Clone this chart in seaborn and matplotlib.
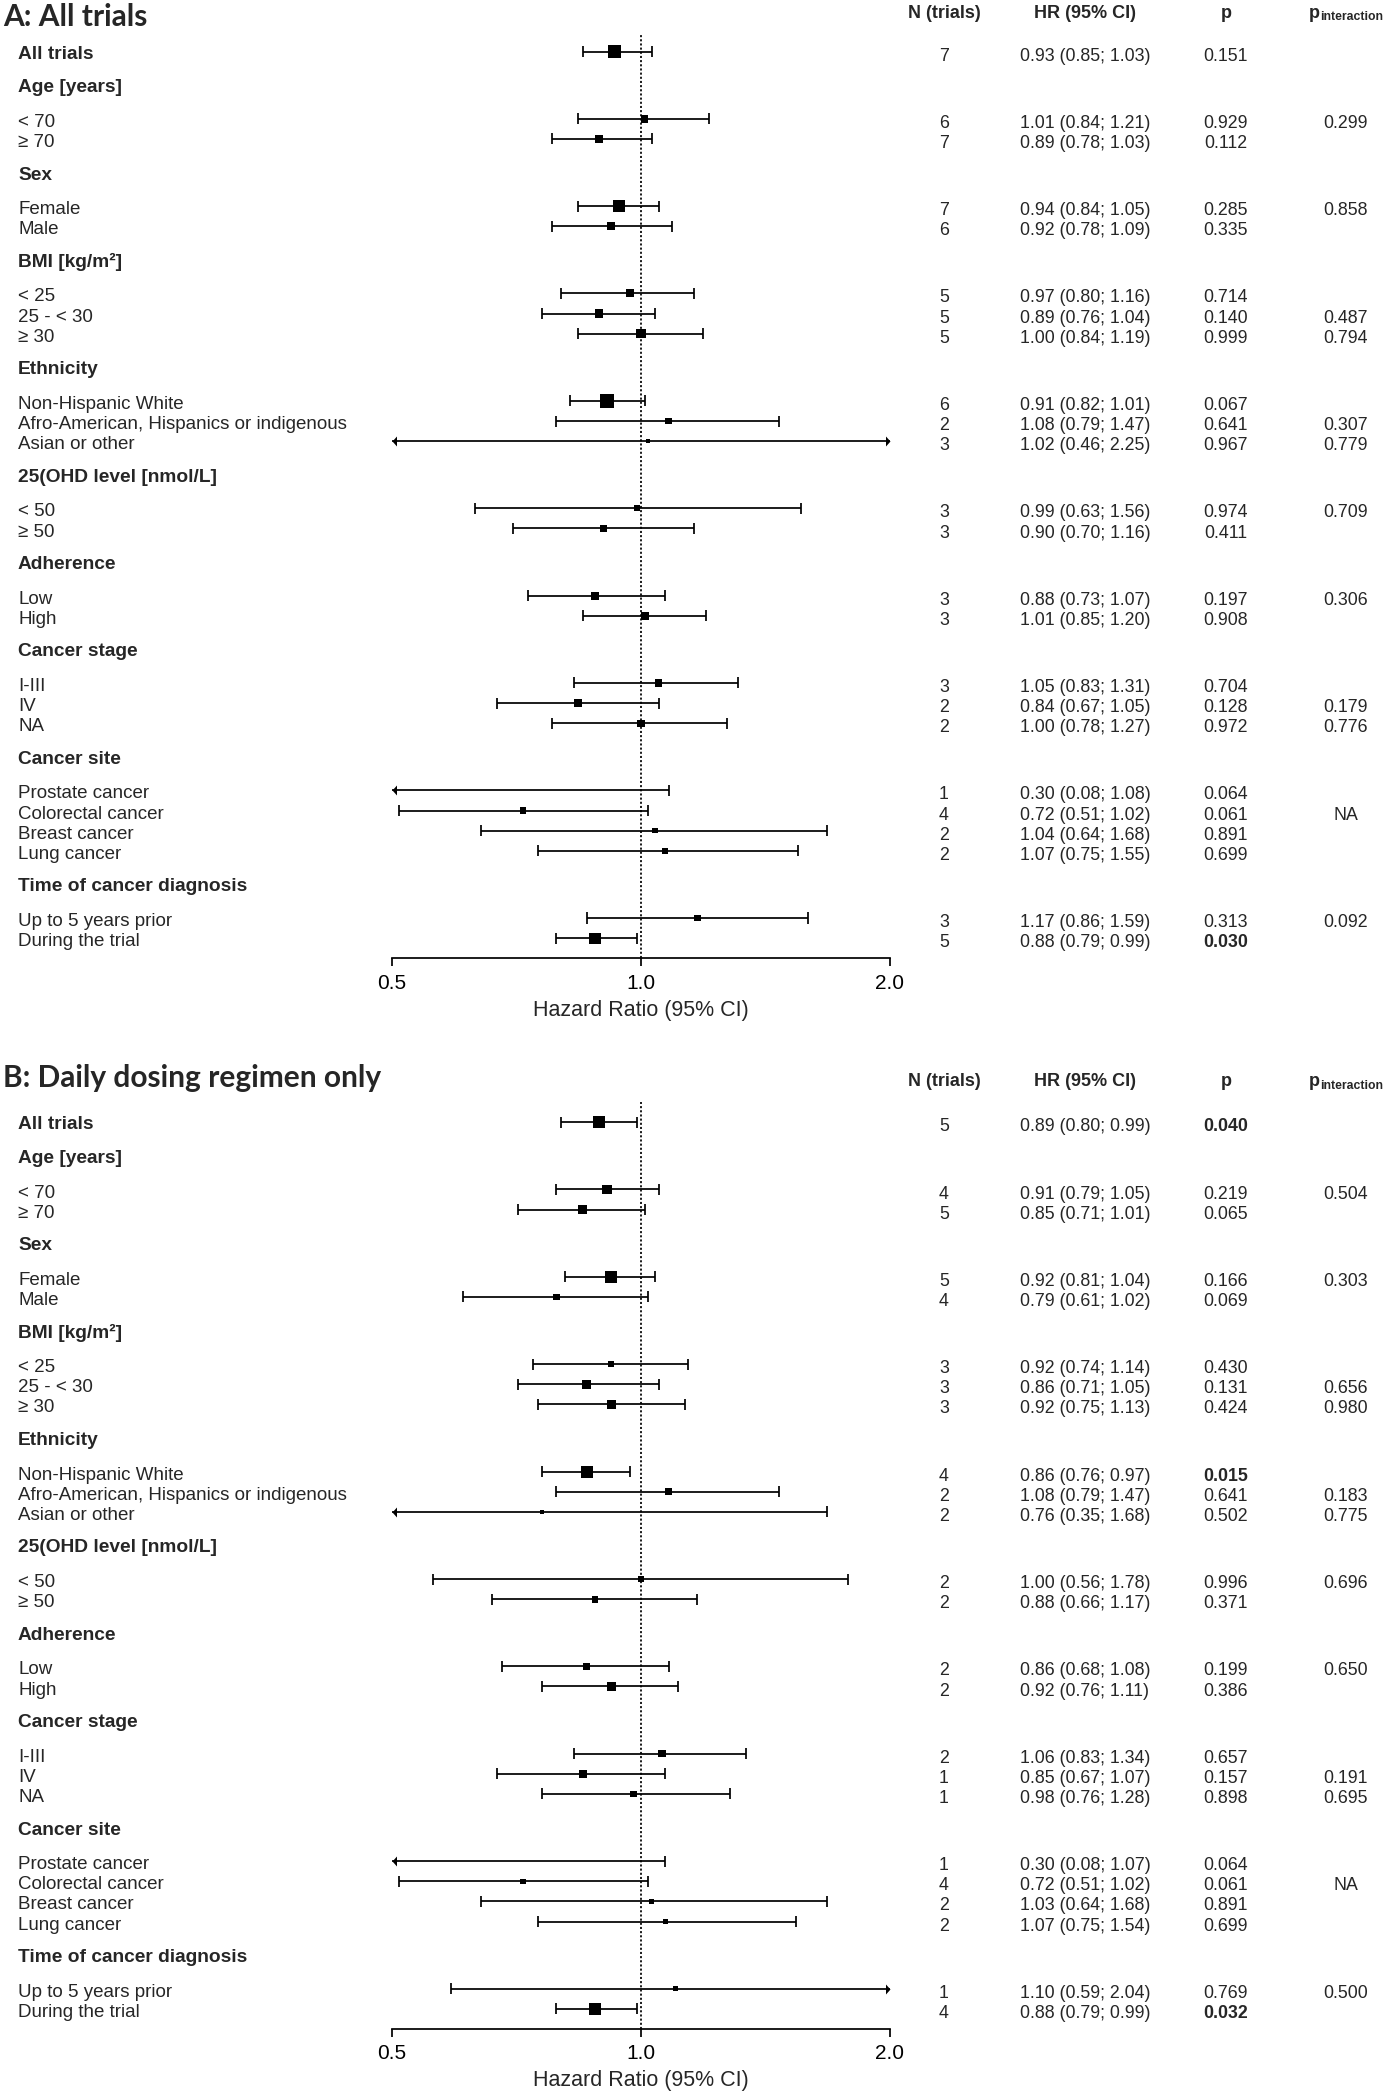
import numpy as np
import pandas as pd
import matplotlib
matplotlib.use("Agg")
import matplotlib.pyplot as plt
import matplotlib.transforms as mtransforms
from matplotlib.ticker import NullLocator
import seaborn as sns

# ------------------------------------------------------------------ data
group_names = ["All trials", "Age [years]", "Sex", "BMI [kg/m²]", "Ethnicity",
               "25(OHD level [nmol/L]", "Adherence", "Cancer stage",
               "Cancer site", "Time of cancer diagnosis"]
subgroup_names = [
    ["All trials"],
    ["< 70", "≥ 70"],
    ["Female", "Male"],
    ["< 25", "25 - < 30", "≥ 30"],
    ["Non-Hispanic White", "Afro-American, Hispanics or indigenous", "Asian or other"],
    ["< 50", "≥ 50"],
    ["Low", "High"],
    ["I-III", "IV", "NA"],
    ["Prostate cancer", "Colorectal cancer", "Breast cancer", "Lung cancer"],
    ["Up to 5 years prior", "During the trial"],
]

# Panel A: all trials
n_a = [7, 6, 7, 7, 6, 5, 5, 5, 6, 2, 3, 3, 3, 3, 3, 3, 2, 2, 1, 4, 2, 2, 3, 5]
hr_a = [0.93, 1.01, 0.89, 0.94, 0.92, 0.97, 0.89, 1.00, 0.91, 1.08, 1.02, 0.99, 0.90,
        0.88, 1.01, 1.05, 0.84, 1.00, 0.30, 0.72, 1.04, 1.07, 1.17, 0.88]
lo_a = [0.85, 0.84, 0.78, 0.84, 0.78, 0.80, 0.76, 0.84, 0.82, 0.79, 0.46, 0.63, 0.70,
        0.73, 0.85, 0.83, 0.67, 0.78, 0.08, 0.51, 0.64, 0.75, 0.86, 0.79]
hi_a = [1.03, 1.21, 1.03, 1.05, 1.09, 1.16, 1.04, 1.19, 1.01, 1.47, 2.25, 1.56, 1.16,
        1.07, 1.20, 1.31, 1.05, 1.27, 1.08, 1.02, 1.68, 1.55, 1.59, 0.99]
p_a = ["0.151", "0.929", "0.112", "0.285", "0.335", "0.714", "0.140", "0.999", "0.067",
       "0.641", "0.967", "0.974", "0.411", "0.197", "0.908", "0.704", "0.128", "0.972",
       "0.064", "0.061", "0.891", "0.699", "0.313", "0.030"]
pint_a = ["", "0.299", "", "0.858", "", "", "0.487", "0.794", "", "0.307", "0.779",
          "0.709", "", "0.306", "", "", "0.179", "0.776", "", "NA", "", "", "0.092", ""]
weight_a = [13.0, 7.5, 8.7, 11.7, 7.7, 8.0, 8.7, 9.3, 13.3, 6.7, 3.5, 6.0, 6.7,
            8.0, 8.0, 7.7, 8.0, 7.3, 5.0, 6.3, 5.3, 6.3, 6.7, 11.3]

# Panel B: daily dosing regimen only
n_b = [5, 4, 5, 5, 4, 3, 3, 3, 4, 2, 2, 2, 2, 2, 2, 2, 1, 1, 1, 4, 2, 2, 1, 4]
hr_b = [0.89, 0.91, 0.85, 0.92, 0.79, 0.92, 0.86, 0.92, 0.86, 1.08, 0.76, 1.00, 0.88,
        0.86, 0.92, 1.06, 0.85, 0.98, 0.30, 0.72, 1.03, 1.07, 1.10, 0.88]
lo_b = [0.80, 0.79, 0.71, 0.81, 0.61, 0.74, 0.71, 0.75, 0.76, 0.79, 0.35, 0.56, 0.66,
        0.68, 0.76, 0.83, 0.67, 0.76, 0.08, 0.51, 0.64, 0.75, 0.59, 0.79]
hi_b = [0.99, 1.05, 1.01, 1.04, 1.02, 1.14, 1.05, 1.13, 0.97, 1.47, 1.68, 1.78, 1.17,
        1.08, 1.11, 1.34, 1.07, 1.28, 1.07, 1.02, 1.68, 1.54, 2.04, 0.99]
p_b = ["0.040", "0.219", "0.065", "0.166", "0.069", "0.430", "0.131", "0.424", "0.015",
       "0.641", "0.502", "0.996", "0.371", "0.199", "0.386", "0.657", "0.157", "0.898",
       "0.064", "0.061", "0.891", "0.699", "0.769", "0.032"]
pint_b = ["", "0.504", "", "0.303", "", "", "0.656", "0.980", "", "0.183", "0.775",
          "0.696", "", "0.650", "", "", "0.191", "0.695", "", "NA", "", "", "0.500", ""]
weight_b = [12.0, 9.3, 9.7, 12.0, 6.7, 6.3, 9.3, 9.0, 12.0, 6.7, 4.0, 5.3, 6.7,
            6.7, 9.0, 7.7, 8.0, 6.7, 5.0, 5.3, 5.3, 5.3, 5.3, 12.0]

panel_titles = ["A: All trials", "B: Daily dosing regimen only"]
col_headers = ["N (trials)", "HR (95% CI)", "p"]
x_ticks = [0.5, 1.0, 2.0]
x_ticklabels = ["0.5", "1.0", "2.0"]
x_label = "Hazard Ratio (95% CI)"

# ------------------------------------------------------------------ style
W, H, DPI = 1384, 2100, 100
sns.set_style("white")
plt.rcParams["font.family"] = ["Liberation Sans", "DejaVu Sans"]
TITLE_FONT = ["Lato", "Liberation Sans", "DejaVu Sans"]
LW = 1.25
PX = 72.0 / DPI  # points per pixel

HEAD_STEP, ITEM_STEP = 5.0, 3.0   # row layout units
UNIT_PX = 6.716


def row_layout():
    rows = []      # (label, y, bold, data index or None)
    y = 0.0
    idx = 0
    for g, (gname, subs) in enumerate(zip(group_names, subgroup_names)):
        if g == 0:
            rows.append((subs[0], y, True, idx))
            idx += 1
            continue
        y += HEAD_STEP
        rows.append((gname, y, True, None))
        y += HEAD_STEP
        for k, s in enumerate(subs):
            if k > 0:
                y += ITEM_STEP
            rows.append((s, y, False, idx))
            idx += 1
    axis_y = y + ITEM_STEP
    return rows, axis_y


rows, AXIS_Y = row_layout()

fig = plt.figure(figsize=(W / DPI, H / DPI), dpi=DPI, facecolor="white")

panels = [
    dict(n=n_a, hr=hr_a, lo=lo_a, hi=hi_a, p=p_a, pint=pint_a, w=weight_a,
         title=panel_titles[0], title_base=26, head_base=17.5, top=33, bottom=958.3),
    dict(n=n_b, hr=hr_b, lo=lo_b, hi=hi_b, p=p_b, pint=pint_b, w=weight_b,
         title=panel_titles[1], title_base=1087, head_base=1086, top=1102, bottom=2029.0),
]

X0_PX, X1_PX = 392.0, 890.0
COL_X = [944, 1085, 1226, 1346]
LABEL_X = 18

LARROW = [(0, 0), (0.9, 1), (0.9, -1), (0, 0)]
RARROW = [(0, 0), (-0.9, 1), (-0.9, -1), (0, 0)]
ARROW_S = (10 * PX) ** 2

for P in panels:
    ax = fig.add_axes([X0_PX / W, 1 - P["bottom"] / H,
                       (X1_PX - X0_PX) / W, (P["bottom"] - P["top"]) / H])
    ax.set_facecolor("none")
    ax.set_xscale("log", base=2)
    ax.set_xlim(0.5, 2.0)
    top_u = AXIS_Y - (P["bottom"] - P["top"]) / UNIT_PX
    ax.set_ylim(AXIS_Y, top_u)

    data_rows = [r for r in rows if r[3] is not None]
    df = pd.DataFrame({
        "label": [r[0] for r in data_rows],
        "y": [r[1] for r in data_rows],
        "hr": P["hr"], "lo": P["lo"], "hi": P["hi"],
        "w": P["w"],
    })
    lo_c = df["lo"].clip(0.5, 2.0)
    hi_c = df["hi"].clip(0.5, 2.0)

    # reference line
    ax.axvline(1.0, color="black", lw=LW, ls=(0, (1.2, 1.2)), zorder=1)

    # CI lines
    ax.hlines(df["y"], lo_c, hi_c, color="black", lw=LW, zorder=2)
    cap = 0.82
    m_lo = df["lo"] >= 0.5
    m_hi = df["hi"] <= 2.0
    ax.vlines(df.loc[m_lo, "lo"], df.loc[m_lo, "y"] - cap, df.loc[m_lo, "y"] + cap,
              color="black", lw=LW, zorder=2)
    ax.vlines(df.loc[m_hi, "hi"], df.loc[m_hi, "y"] - cap, df.loc[m_hi, "y"] + cap,
              color="black", lw=LW, zorder=2)
    # arrows for truncated intervals
    la = df[~m_lo]
    ra = df[~m_hi]
    if len(la):
        ax.scatter(np.full(len(la), 0.5), la["y"], marker=LARROW, s=ARROW_S,
                   color="black", linewidths=0, zorder=5, clip_on=False)
    if len(ra):
        ax.scatter(np.full(len(ra), 2.0), ra["y"], marker=RARROW, s=ARROW_S,
                   color="black", linewidths=0, zorder=5, clip_on=False)

    # point estimates (box area ~ weight)
    vis = df[(df["hr"] >= 0.5) & (df["hr"] <= 2.0)].copy()
    vis["area"] = vis["w"] ** 2
    amin, amax = vis["area"].min(), vis["area"].max()
    sns.scatterplot(data=vis, x="hr", y="y", size="area",
                    sizes=(amin * PX ** 2, amax * PX ** 2), size_norm=(amin, amax),
                    marker="s", color="black", linewidth=0, legend=False,
                    ax=ax, zorder=4)

    # axes styling
    for s in ["top", "left", "right"]:
        ax.spines[s].set_visible(False)
    ax.spines["bottom"].set_linewidth(LW)
    ax.spines["bottom"].set_color("black")
    ax.set_yticks([])
    ax.set_ylabel("")
    ax.set_xticks(x_ticks)
    ax.set_xticklabels(x_ticklabels)
    ax.xaxis.set_minor_locator(NullLocator())
    ax.tick_params(axis="x", direction="out", length=6, width=LW, labelsize=15,
                   pad=5, colors="black", bottom=True)
    ax.set_xlabel(x_label, fontsize=15.5, labelpad=5)

    # text columns
    tr = mtransforms.blended_transform_factory(fig.transFigure, ax.transData)
    for (label, y, bold, di) in rows:
        if bold:
            fig.text(LABEL_X / W, y + 1.05, label, transform=tr, fontsize=13.8,
                     fontweight="bold", ha="left", va="baseline")
        else:
            fig.text(LABEL_X / W, y + 1.2, label, transform=tr, fontsize=13.5,
                     ha="left", va="baseline")
        if di is None:
            continue
        yy = y + 1.35
        hr, lo, hi = P["hr"][di], P["lo"][di], P["hi"][di]
        fig.text(COL_X[0] / W, yy, str(P["n"][di]), transform=tr, fontsize=12.8,
                 ha="center", va="baseline")
        fig.text(COL_X[1] / W, yy, f"{hr:.2f} ({lo:.2f}; {hi:.2f})", transform=tr,
                 fontsize=12.8, ha="center", va="baseline")
        pv = P["p"][di]
        fig.text(COL_X[2] / W, yy, pv, transform=tr, fontsize=12.8, ha="center",
                 va="baseline", fontweight="bold" if float(pv) < 0.05 else "normal")
        if P["pint"][di]:
            fig.text(COL_X[3] / W, yy, P["pint"][di], transform=tr, fontsize=12.8,
                     ha="center", va="baseline")

    # column headers
    hb = 1 - P["head_base"] / H
    for x, t in zip(COL_X[:3], col_headers):
        fig.text(x / W, hb, t, fontsize=13, fontweight="bold", ha="center",
                 va="baseline")
    pt = fig.text(1309 / W, hb, "p", fontsize=13, fontweight="bold", ha="left",
                  va="baseline")
    ax.annotate("interaction", xy=(1, 0), xycoords=pt, xytext=(0.4, 1.0),
                textcoords="offset points", fontsize=8.8, fontweight="bold",
                ha="left", va="baseline", annotation_clip=False)

    # panel title
    fig.text(3 / W, 1 - P["title_base"] / H, P["title"], family=TITLE_FONT,
             fontsize=21.5, fontweight="bold", ha="left", va="baseline")

fig.savefig("out.png", dpi=DPI, facecolor="white")
